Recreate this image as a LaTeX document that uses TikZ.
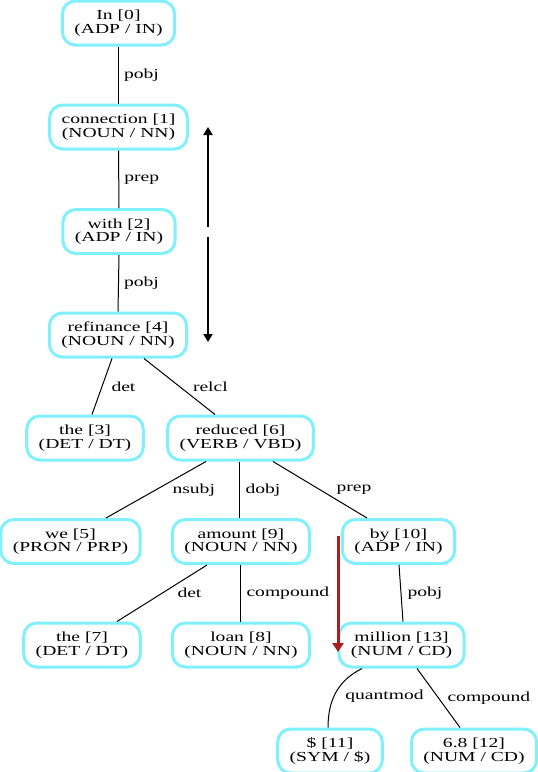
\documentclass[tikz,border=0pt]{standalone}
\usepackage{fontspec}
\setmainfont{Liberation Serif}[FakeStretch=1.42]
\usepackage{tikz}
\usetikzlibrary{positioning}
\usetikzlibrary {arrows.meta}
\definecolor{tokcyan}{RGB}{128,240,252}
\definecolor{arrowred}{RGB}{168,32,30}
\tikzset{deptoken/.style={rectangle,rounded corners=13pt,draw=tokcyan,line width=3pt,fill=white,
inner xsep=12pt,inner ysep=2pt,minimum height=44pt,align=center,font={\fontsize{13.8pt}{13.5pt}\selectfont}}}
\tikzset{deplabel/.style={rectangle,draw=none,inner sep=0pt,font={\fontsize{13.8pt}{13.5pt}\selectfont}}}
\tikzset{depedge/.style={line width=1pt,draw=black}}

\begin{document}
\begin{tikzpicture}[x=1pt,y=-1pt]

        \useasboundingbox (0,0) rectangle (538,772);

        \node[deptoken] (boxIn) at (118.5,23) {In [0]\\(ADP / IN)};
        \node[deptoken] (boxConnection) at (118.5,127) {connection [1]\\(NOUN / NN)};
        \node[deptoken] (boxWith) at (119,231.5) {with [2]\\(ADP / IN)};
        \node[deptoken] (boxRefinance) at (118,335) {refinance [4]\\(NOUN / NN)};

        \node[deptoken] (boxTheA) at (85,438) {the [3]\\(DET / DT)};
        \node[deptoken] (boxReduced) at (240.5,438) {reduced [6]\\(VERB / VBD)};

        \node[deptoken] (boxWe) at (70.5,541.5) {we [5]\\(PRON / PRP)};
        \node[deptoken] (boxAmount) at (241,541.5) {amount [9]\\(NOUN / NN)};
        \node[deptoken] (boxBy) at (398.5,541.5) {by [10]\\(ADP / IN)};

        \node[deptoken] (boxTheB) at (82,645) {the [7]\\(DET / DT)};
        \node[deptoken] (boxLoan) at (241,645) {loan [8]\\(NOUN / NN)};
        \node[deptoken] (boxMillion) at (401.5,645) {million [13]\\(NUM / CD)};

        \node[deptoken] (boxDollar) at (330,751) {\$ [11]\\(SYM / \$)};
        \node[deptoken] (boxSix) at (474,751) {6.8 [12]\\(NUM / CD)};

        \draw [depedge] (boxIn.south) --node[deplabel, right=5pt] {pobj} (boxConnection.north);
        \draw [depedge] (boxConnection.south) --node[deplabel, right=5pt] {prep} (boxWith.north);
        \draw [depedge] (boxWith.south) --node[deplabel, right=5pt] {pobj} (boxRefinance.north);

        \draw [depedge] ([xshift=-6pt]boxRefinance.south) --node[deplabel, right=9pt] {det} ([xshift=7pt]boxTheA.north);
        \draw [depedge] ([xshift=26pt]boxRefinance.south) --node[deplabel, right=13pt] {relcl} ([xshift=-25.5pt]boxReduced.north);

        \draw [depedge] ([xshift=-34.5pt]boxReduced.south) --node[deplabel, right=16pt] {nsubj} ([xshift=35.5pt]boxWe.north);
        \draw [depedge] ([xshift=-1.5pt]boxReduced.south) --node[deplabel, right=6pt] {dobj} ([xshift=-2pt]boxAmount.north);
        \draw [depedge] ([xshift=32.5pt]boxReduced.south) --node[deplabel, right=16pt] {prep} ([xshift=-31.5pt]boxBy.north);

        \draw [depedge] ([xshift=-34pt]boxAmount.south) --node[deplabel, right=15pt] {det} ([xshift=35pt]boxTheB.north);
        \draw [depedge] ([xshift=-1pt]boxAmount.south) --node[deplabel, right=6pt] {compound} ([xshift=-1pt]boxLoan.north);
        \draw [depedge] ([xshift=0.5pt]boxBy.south) --node[deplabel, right=6pt] {pobj} ([xshift=1.5pt]boxMillion.north);

        \draw [depedge] ([xshift=-39.5pt]boxMillion.south) .. controls ([xshift=-61.5pt,yshift=-11pt]boxMillion.south) and ([xshift=-2pt,yshift=30pt]boxDollar.north) .. node[deplabel, right=8pt, yshift=-5pt] {quantmod} ([xshift=-2pt]boxDollar.north);
        \draw [depedge] ([xshift=15.5pt]boxMillion.south) --node[deplabel, right=8.5pt] {compound} ([xshift=-14pt]boxSix.north);

        \coordinate (arrUpFrom) at (208,227);
        \coordinate (arrUpTo) at (208,127);
        \coordinate (arrDownFrom) at (208,237);
        \coordinate (arrDownTo) at (208,342);
        \draw [line width=2.4pt,-{Triangle[length=8pt,width=9pt]}] (arrUpFrom) -- (arrUpTo);
        \draw [line width=2.4pt,-{Triangle[length=8pt,width=9pt]}] (arrDownFrom) -- (arrDownTo);

        \coordinate (redFrom) at (338,536);
        \coordinate (redTo) at (338,652);
        \draw [line width=3pt,draw=arrowred,-{Triangle[length=9pt,width=11pt]}] (redFrom) -- (redTo);

    \end{tikzpicture}
\end{document}
